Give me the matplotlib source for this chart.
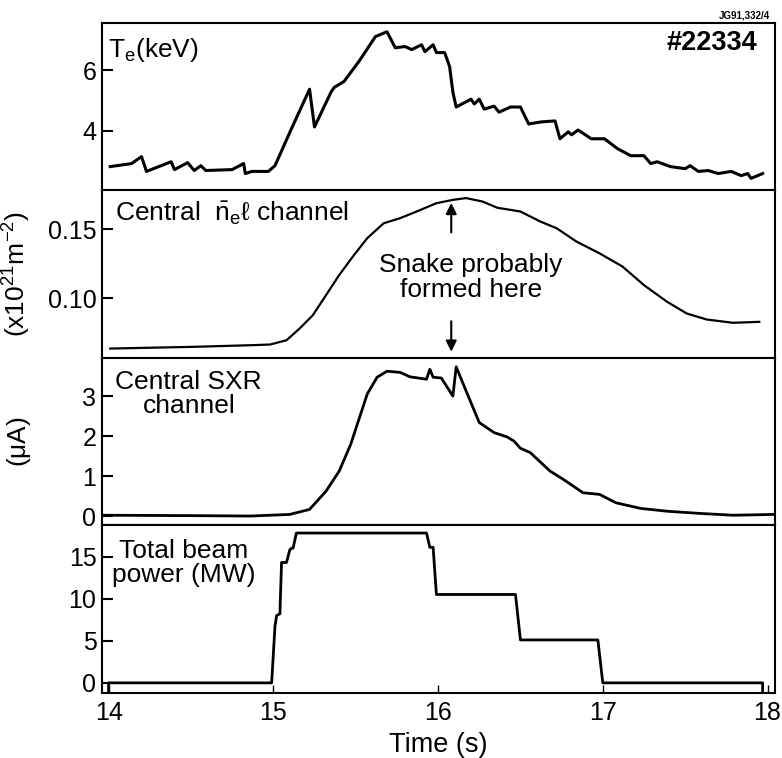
import matplotlib.pyplot as plt

plt.rcParams['font.family'] = ['Liberation Sans', 'DejaVu Sans']
plt.rcParams['mathtext.fontset'] = 'custom'
plt.rcParams['mathtext.rm'] = 'Liberation Sans'
plt.rcParams['mathtext.it'] = 'Liberation Sans:italic'

te_time = [14.01, 14.14, 14.20, 14.23, 14.38, 14.40, 14.48, 14.52, 14.56, 14.59,
           14.75, 14.82, 14.83, 14.87, 14.97, 15.01, 15.11, 15.22, 15.25, 15.35,
           15.37, 15.43, 15.52, 15.62, 15.69, 15.74, 15.80, 15.84, 15.90, 15.92,
           15.97, 15.99, 16.04, 16.07, 16.09, 16.11, 16.20, 16.22, 16.25, 16.28,
           16.34, 16.37, 16.44, 16.50, 16.55, 16.63, 16.71, 16.74, 16.79, 16.81,
           16.85, 16.93, 17.01, 17.09, 17.17, 17.25, 17.29, 17.33, 17.41, 17.50,
           17.53, 17.58, 17.64, 17.70, 17.78, 17.84, 17.88, 17.90, 17.97]
te_kev = [2.82, 2.92, 3.15, 2.66, 2.98, 2.72, 2.95, 2.69, 2.85, 2.69,
          2.72, 2.92, 2.59, 2.66, 2.66, 2.85, 4.07, 5.38, 4.13, 5.28,
          5.44, 5.64, 6.30, 7.12, 7.28, 6.75, 6.79, 6.69, 6.85, 6.62,
          6.85, 6.59, 6.59, 6.13, 5.28, 4.79, 5.05, 4.89, 5.05, 4.72,
          4.82, 4.62, 4.79, 4.79, 4.23, 4.30, 4.33, 3.74, 3.97, 3.87,
          4.03, 3.74, 3.74, 3.41, 3.18, 3.18, 2.92, 2.98, 2.82, 2.75,
          2.85, 2.66, 2.69, 2.59, 2.66, 2.52, 2.59, 2.43, 2.59]

ne_time = [14.01, 14.5, 14.86, 14.98, 15.08, 15.16, 15.24, 15.32, 15.40, 15.49,
           15.57, 15.67, 15.77, 15.87, 15.99, 16.09, 16.17, 16.27, 16.36, 16.50,
           16.62, 16.72, 16.84, 16.98, 17.12, 17.25, 17.39, 17.51, 17.63, 17.79,
           17.95]
ne_line = [0.0638, 0.065, 0.0662, 0.0667, 0.0698, 0.0783, 0.0879, 0.1024, 0.1169, 0.1314,
           0.1435, 0.1543, 0.158, 0.1628, 0.1688, 0.1712, 0.1725, 0.170, 0.1655, 0.1628,
           0.1556, 0.1507, 0.1411, 0.1326, 0.123, 0.1096, 0.0976, 0.0891, 0.0848, 0.0824,
           0.0831]

sxr_time = [13.97, 14.5, 14.86, 15.10, 15.22, 15.32, 15.40, 15.47, 15.53, 15.57,
            15.63, 15.69, 15.77, 15.83, 15.93, 15.95, 15.97, 16.02, 16.09, 16.11,
            16.17, 16.25, 16.34, 16.42, 16.46, 16.50, 16.56, 16.68, 16.76, 16.88,
            16.98, 17.08, 17.23, 17.39, 17.59, 17.79, 18.04]
sxr_ua = [0.03, 0.02, 0.01, 0.05, 0.175, 0.63, 1.13, 1.8, 2.55, 3.05,
          3.47, 3.62, 3.59, 3.48, 3.42, 3.67, 3.47, 3.45, 3.0, 3.73,
          3.13, 2.34, 2.09, 1.98, 1.88, 1.7, 1.59, 1.13, 0.925, 0.59,
          0.55, 0.34, 0.2, 0.13, 0.075, 0.03, 0.05]

beam_time = [14.0, 14.0, 14.99, 15.01, 15.02, 15.04, 15.05, 15.06, 15.08, 15.10,
             15.11, 15.12, 15.14, 15.93, 15.95, 15.97, 15.99, 16.47, 16.50, 16.97,
             17.0, 17.97, 17.97]
beam_mw = [-1.2, 0.0, 0.0, 6.7, 8.0, 8.2, 14.3, 14.3, 14.3, 15.8,
           16.0, 16.0, 17.8, 17.8, 16.1, 16.1, 10.5, 10.5, 5.1, 5.1,
           0.0, 0.0, -1.2]

snake_time = 16.08

fig, axes = plt.subplots(4, 1, sharex=True, figsize=(7.82, 7.58), dpi=100)
plt.subplots_adjust(left=0.1304, right=0.991, top=0.9697, bottom=0.0858, hspace=0)
ax1, ax2, ax3, ax4 = axes

ax1.plot(te_time, te_kev, color='black', lw=2.2)
ax2.plot(ne_time, ne_line, color='black', lw=1.6)
ax3.plot(sxr_time, sxr_ua, color='black', lw=2.0)
ax4.plot(beam_time, beam_mw, color='black', lw=2.0)

ax1.set_ylim(2.03, 7.57)
ax1.set_yticks([4, 6])
ax2.set_ylim(0.057, 0.178)
ax2.set_yticks([0.10, 0.15])
ax2.set_yticklabels(['0.10', '0.15'])
ax3.set_ylim(-0.225, 3.95)
ax3.set_yticks([0, 1, 2, 3])
ax4.set_ylim(-1.2, 18.7)
ax4.set_yticks([0, 5, 10, 15])
ax4.set_xlim(13.96, 18.045)
ax4.set_xticks([14, 15, 16, 17, 18])

for ax in axes:
    for s in ax.spines.values():
        s.set_linewidth(1.5)
    ax.tick_params(axis='y', direction='in', length=8, width=1.5, labelsize=18, pad=4)
    ax.tick_params(axis='x', direction='in', length=0, labelsize=18, pad=6)
ax4.tick_params(axis='x', length=6, width=1)

# panel labels
ax1.text(0.009, 0.84, r'$\mathregular{T_e}$(keV)', transform=ax1.transAxes,
         fontsize=19, va='center', ha='left')
ax1.text(0.973, 0.88, '#22334', transform=ax1.transAxes,
         fontsize=19.5, fontweight='bold', va='center', ha='right')
ax2.text(0.019, 0.862, r'Central  $\mathregular{\bar{n}_e}$ℓ channel', transform=ax2.transAxes,
         fontsize=19, va='center', ha='left')
ax3.text(0.129, 0.784, 'Central SXR\nchannel', transform=ax3.transAxes,
         fontsize=19, va='center', ha='center', linespacing=1.0)
ax4.text(0.122, 0.778, 'Total beam\npower (MW)', transform=ax4.transAxes,
         fontsize=19, va='center', ha='center', linespacing=1.0)

# snake annotation
ax2.text(snake_time + 0.12, 0.115, 'Snake probably\nformed here', fontsize=19,
         ha='center', va='center', linespacing=1.05)
ax2.annotate('', xy=(snake_time, 0.171), xytext=(snake_time, 0.1457),
             arrowprops=dict(arrowstyle='-|>', color='black', lw=1.5, mutation_scale=16))
ax2.annotate('', xy=(snake_time, 0.0595), xytext=(snake_time, 0.0855),
             arrowprops=dict(arrowstyle='-|>', color='black', lw=1.5, mutation_scale=16))

ax2.set_ylabel(r'(x10$\mathregular{^{21}}$m$\mathregular{^{-2}}$)', fontsize=19)
ax3.set_ylabel(r'($\mathregular{\mu}$A)', fontsize=19)
for ax in (ax2, ax3):
    ax.yaxis.set_label_coords(-0.103, 0.5)

ax4.set_xlabel('Time (s)', fontsize=19.5, labelpad=5)

fig.text(770 / 782, 1 - 15 / 758, 'JG91,332/4', fontsize=7, fontweight='bold',
         ha='right', va='center')

plt.savefig('out.png', dpi=100)
